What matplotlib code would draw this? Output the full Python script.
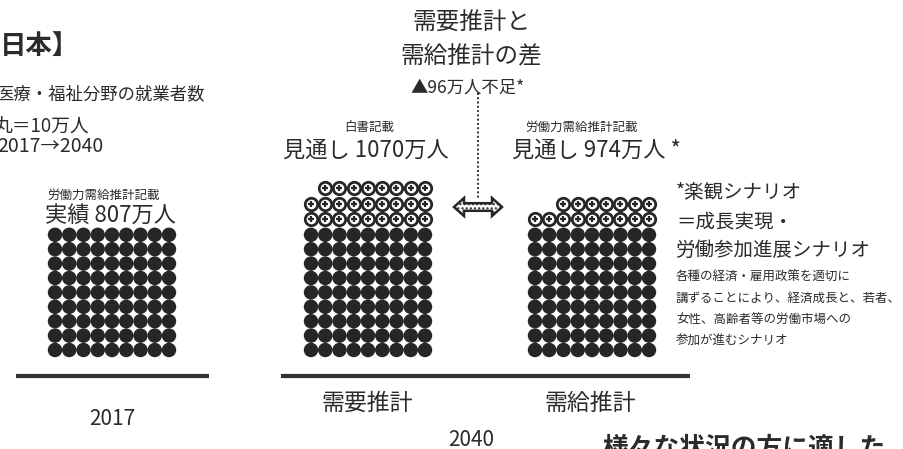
import matplotlib
matplotlib.use("Agg")
import matplotlib.pyplot as plt
from matplotlib.patches import Polygon

plt.rcParams['font.family'] = ['Noto Sans CJK JP', 'DejaVu Sans']

# ---- data ----
groups = ["2017 実績", "2040 需要推計", "2040 需給推計"]
values = [807, 1070, 974]          # 万人
base_value = 807                   # filled circles (actual 2017)
unit = 10                          # one circle = 10万人
group_x0 = [55, 311, 535]          # left column centre (px)
header_small = ["労働力需給推計記載", "白書記載", "労働力需給推計記載"]
header_big = ["実績 807万人", "見通し 1070万人", "見通し 974万人 *"]
bottom_labels = ["需要推計", "需給推計"]
years = ["2017", "2040"]

DARK = "#262626"
TXT = "#2b2b2b"

fig = plt.figure(figsize=(9.04, 4.49), dpi=100)
ax = fig.add_axes([0, 0, 1, 1])
ax.set_xlim(0, 904)
ax.set_ylim(449, 0)
ax.axis("off")

ncols = 9
dx = 14.25
dy = 14.4
dy_h = 15.6
y_bottom = 350


def grid(n, x0, y0, step_y):
    xs, ys = [], []
    full_rows = n // ncols
    rem = n % ncols
    for r in range(full_rows):
        for c in range(ncols):
            xs.append(x0 + c * dx)
            ys.append(y0 - r * step_y)
    for c in range(rem):
        xs.append(x0 + (ncols - rem + c) * dx)
        ys.append(y0 - full_rows * step_y)
    return xs, ys


filled_n = round(base_value / unit)
for i, v in enumerate(values):
    total = round(v / unit)
    fx, fy = grid(filled_n, group_x0[i], y_bottom, dy)
    ax.scatter(fx, fy, s=108, c=DARK, edgecolors="none", zorder=3)
    extra = total - filled_n
    if extra > 0:
        top_filled = y_bottom - (filled_n // ncols - 1) * dy
        hx, hy = grid(extra, group_x0[i], top_filled - dy_h, dy_h)
        ax.scatter(hx, hy, s=80, c="white", edgecolors=DARK, linewidths=2.0, zorder=3)
        ax.scatter(hx, hy, s=22, marker="+", c=DARK, linewidths=1.6, zorder=4)

# headers over groups
hdr_small_pos = [(104, 195), (369, 127), (582, 127)]
hdr_big_pos = [(111, 215), (366, 150), (596, 150)]
for i in range(3):
    ax.text(*hdr_small_pos[i], header_small[i], fontsize=9, color=TXT, ha="center", va="center")
    ax.text(*hdr_big_pos[i], header_big[i], fontsize=16, color=TXT, ha="center", va="center")

# baselines
ax.plot([16, 209], [376, 376], lw=3, color="#333333", solid_capstyle="butt")
ax.plot([281, 690], [376, 376], lw=3, color="#333333", solid_capstyle="butt")

# bottom labels
ax.text(367, 403, bottom_labels[0], fontsize=16.5, color=TXT, ha="center", va="center")
ax.text(590, 403, bottom_labels[1], fontsize=16.5, color=TXT, ha="center", va="center")
ax.text(112, 419, years[0], fontsize=15, color=TXT, ha="center", va="center")
ax.text(471, 440, years[1], fontsize=15, color=TXT, ha="center", va="center")
ax.text(602, 456, "様々な状況の方に適した", fontsize=18.5, fontweight="bold", color=TXT,
        ha="left", va="baseline")

# top-left texts
ax.text(0, 46, "日本】", fontsize=19, fontweight="bold", color=TXT, ha="left", va="center")
ax.text(-4, 94, "医療・福祉分野の就業者数", fontsize=12.5, color=TXT, ha="left", va="center")
ax.text(-7, 127, "丸＝10万人", fontsize=13.5, color=TXT, ha="left", va="center")
ax.text(-3, 146, "2017→2040", fontsize=14, color=TXT, ha="left", va="center")

# difference annotation
ax.text(472, 23, "需要推計と", fontsize=17, color=TXT, ha="center", va="center")
ax.text(471, 57, "需給推計の差", fontsize=17, color=TXT, ha="center", va="center")
ax.text(468, 88, "▲96万人不足*", fontsize=12.5, color=TXT, ha="center", va="center")
ax.plot([478, 478], [93, 199], ls=(0, (1, 1.2)), lw=1.4, color="#333333", zorder=2)


def double_arrow(cx, cy, half_len, head_len, head_h, shaft_h):
    pts = [(cx - half_len, cy),
           (cx - half_len + head_len, cy - head_h),
           (cx - half_len + head_len, cy - shaft_h),
           (cx + half_len - head_len, cy - shaft_h),
           (cx + half_len - head_len, cy - head_h),
           (cx + half_len, cy),
           (cx + half_len - head_len, cy + head_h),
           (cx + half_len - head_len, cy + shaft_h),
           (cx - half_len + head_len, cy + shaft_h),
           (cx - half_len + head_len, cy + head_h)]
    return Polygon(pts, closed=True, fc="white", ec=DARK, lw=1.8, hatch="....",
                   joinstyle="miter", zorder=5)


ax.add_patch(double_arrow(478, 207, 24, 10, 9, 3.8))

# scenario note
note_big = ["*楽観シナリオ", "＝成長実現・", "労働参加進展シナリオ"]
note_big_y = [193, 222, 250]
for t, y in zip(note_big, note_big_y):
    ax.text(676, y, t, fontsize=14, color=TXT, ha="left", va="center")
note_small = ["各種の経済・雇用政策を適切に", "講ずることにより、経済成長と、若者、",
              "女性、高齢者等の労働市場への", "参加が進むシナリオ"]
note_small_y = [277, 298, 320, 341]
for t, y in zip(note_small, note_small_y):
    ax.text(676, y, t, fontsize=9, color=TXT, ha="left", va="center")

fig.savefig("out.png", dpi=100)
